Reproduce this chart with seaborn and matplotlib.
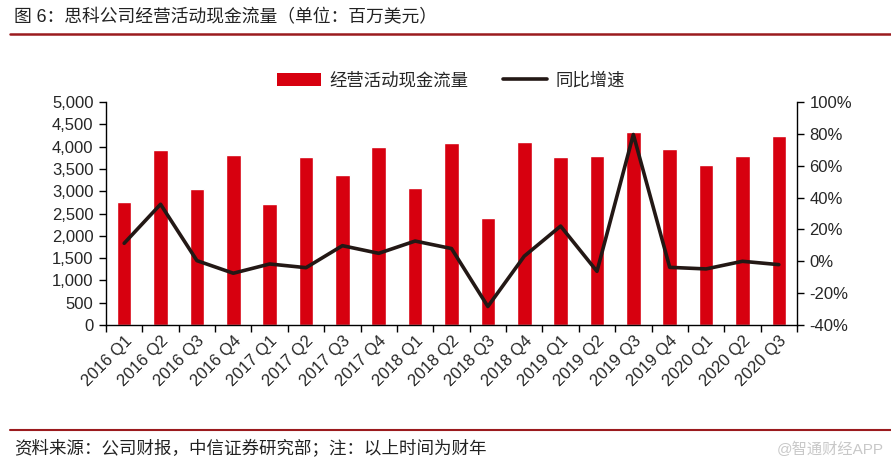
import numpy as np
import pandas as pd
import matplotlib
matplotlib.use("Agg")
import matplotlib.pyplot as plt
import seaborn as sns
from matplotlib.patches import Patch
from matplotlib.lines import Line2D

quarters = ["2016 Q1", "2016 Q2", "2016 Q3", "2016 Q4",
            "2017 Q1", "2017 Q2", "2017 Q3", "2017 Q4",
            "2018 Q1", "2018 Q2", "2018 Q3", "2018 Q4",
            "2019 Q1", "2019 Q2", "2019 Q3", "2019 Q4",
            "2020 Q1", "2020 Q2", "2020 Q3"]
cash_flow = [2760, 3920, 3050, 3810, 2720, 3770, 3370, 4000, 3080, 4070,
             2410, 4100, 3760, 3800, 4320, 3940, 3580, 3800, 4240]
yoy_growth = [11.3, 35.8, 0.4, -7.5, -1.7, -4.0, 9.8, 5.0, 12.7, 8.0,
              -28.4, 3.2, 22.1, -6.3, 79.6, -3.8, -4.8, 0.0, -2.1]

left_ticks = [0, 500, 1000, 1500, 2000, 2500, 3000, 3500, 4000, 4500, 5000]
right_ticks = [-40, -20, 0, 20, 40, 60, 80, 100]

bar_color = "#d7000f"
line_color = "#231815"
dark_red = "#9b1b1e"

sns.set_theme(style="white")
plt.rcParams["font.family"] = ["Liberation Sans", "Noto Sans CJK SC", "DejaVu Sans"]

df = pd.DataFrame({"quarter": quarters, "cash": cash_flow, "yoy": yoy_growth})
df["pos"] = np.arange(len(df))

fig = plt.figure(figsize=(8.91, 4.68), dpi=100)
ax = fig.add_axes([106 / 891, 1 - 325 / 468, (797 - 106) / 891, (325 - 102) / 468])

sns.barplot(data=df, x="quarter", y="cash", color=bar_color, width=0.4,
            saturation=1, ax=ax)
ax.set_ylim(0, 5000)
ax.set_yticks(left_ticks)
ax.set_yticklabels([f"{v:,}" for v in left_ticks], fontsize=12)
ax.set_xlim(-0.5, len(df) - 0.5)
ax.set_xticks(df["pos"])
ax.set_xticklabels(quarters, rotation=45, ha="right", rotation_mode="anchor", fontsize=12)
ax.tick_params(axis="x", length=0, pad=6)
ax.set_xticks(np.arange(len(df) + 1) - 0.5, minor=True)
ax.tick_params(axis="x", which="minor", length=5, width=1, color="black", direction="out", bottom=True)
ax.tick_params(axis="y", length=5, width=1, color="black", direction="out", left=True, pad=4)
ax.set_xlabel("")
ax.set_ylabel("")
for s in ["top", "right"]:
    ax.spines[s].set_visible(False)
for s in ["left", "bottom"]:
    ax.spines[s].set_color("black")
    ax.spines[s].set_linewidth(1)

ax2 = ax.twinx()
sns.lineplot(data=df, x="pos", y="yoy", color=line_color, linewidth=2.6, ax=ax2)
ax2.set_ylim(-40, 100)
ax2.set_yticks(right_ticks)
ax2.set_yticklabels([f"{v}%" for v in right_ticks], fontsize=12)
ax2.tick_params(axis="y", length=5, width=1, color="black", direction="out", right=True, pad=4)
ax2.set_xlim(-0.5, len(df) - 0.5)
ax2.set_xlabel("")
ax2.set_ylabel("")
for s in ["top", "left", "bottom"]:
    ax2.spines[s].set_visible(False)
ax2.spines["right"].set_color("black")
ax2.spines["right"].set_linewidth(1)

handles = [Patch(facecolor=bar_color, edgecolor="none"),
           Line2D([0], [0], color=line_color, linewidth=2.6)]
fig.legend(handles, ["经营活动现金流量", "同比增速"], loc="center",
           bbox_to_anchor=(451 / 891, 1 - 80 / 468), ncol=2, frameon=False,
           fontsize=12.5, handlelength=2.5, handleheight=0.8, columnspacing=2.0,
           handletextpad=0.5)

fig.text(14 / 891, 1 - 18 / 468, "图 6：思科公司经营活动现金流量（单位：百万美元）",
         fontsize=12.8, va="center", ha="left", color="#222222")
fig.add_artist(Line2D([10 / 891, 1.0], [1 - 34 / 468, 1 - 34 / 468],
                      color=dark_red, linewidth=1.8))
fig.add_artist(Line2D([10 / 891, 1.0], [1 - 430 / 468, 1 - 430 / 468],
                      color=dark_red, linewidth=1.5))
fig.text(14 / 891, 1 - 447 / 468, "资料来源：公司财报，中信证券研究部；注：以上时间为财年",
         fontsize=12.6, va="center", ha="left", color="#222222")
fig.text(884 / 891, 1 - 449 / 468, "@智通财经APP", fontsize=11, va="center",
         ha="right", color="#c8c8c8")

fig.savefig("out.png", dpi=100)
